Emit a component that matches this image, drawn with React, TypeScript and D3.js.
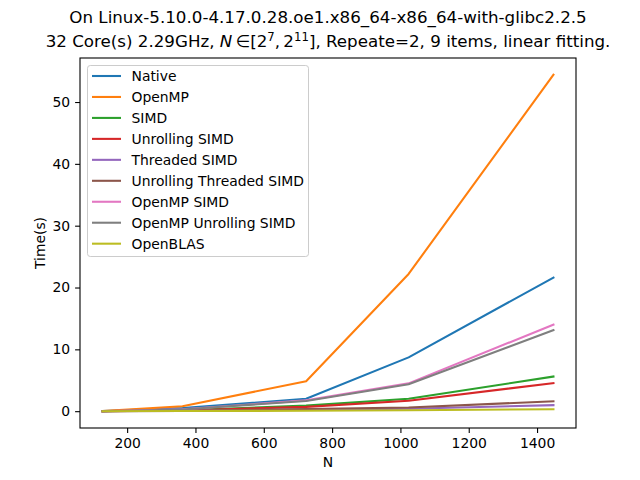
import { useEffect, useRef } from 'react'
import * as d3 from 'd3'

const sizes = [128, 362, 724, 1024, 1448]

const seriesNames = [
  'Native',
  'OpenMP',
  'SIMD',
  'Unrolling SIMD',
  'Threaded SIMD',
  'Unrolling Threaded SIMD',
  'OpenMP SIMD',
  'OpenMP Unrolling SIMD',
  'OpenBLAS',
]

const native = [0.01, 0.5, 2.0, 8.7, 21.6]
const openmp = [0.02, 0.8, 4.85, 22.2, 54.4]
const simd = [0.0, 0.15, 0.9, 2.0, 5.6]
const unrollingSimd = [0.0, 0.12, 0.7, 1.7, 4.55]
const threadedSimd = [0.0, 0.05, 0.25, 0.4, 0.97]
const unrollingThreadedSimd = [0.0, 0.07, 0.35, 0.6, 1.6]
const openmpSimd = [0.0, 0.3, 1.75, 4.5, 14.0]
const openmpUnrollingSimd = [0.0, 0.28, 1.65, 4.35, 13.1]
const openblas = [0.0, 0.02, 0.08, 0.15, 0.32]

const seriesValues = [
  native, openmp, simd, unrollingSimd, threadedSimd,
  unrollingThreadedSimd, openmpSimd, openmpUnrollingSimd, openblas,
]

const colors = ['#1f77b4', '#ff7f0e', '#2ca02c', '#d62728', '#9467bd', '#8c564b', '#e377c2', '#7f7f7f', '#bcbd22']

const xTicks = [200, 400, 600, 800, 1000, 1200, 1400]
const yTicks = [0, 10, 20, 30, 40, 50]

export default function App() {
  const svgRef = useRef<SVGSVGElement>(null)

  useEffect(() => {
    if (!svgRef.current) return
    const svg = d3.select(svgRef.current)
    svg.selectAll('*').remove()

    const width = 640
    const height = 480
    const left = 80, right = 576, top = 58, bottom = 428
    const font = 'DejaVu Sans, sans-serif'

    svg.append('rect').attr('width', width).attr('height', height).attr('fill', 'white')

    // matplotlib-like 5% margins
    const xMin = d3.min(sizes)!, xMax = d3.max(sizes)!
    const xPad = (xMax - xMin) * 0.05
    const x = d3.scaleLinear().domain([xMin - xPad, xMax + xPad]).range([left, right])

    const all = seriesValues.flat()
    const yMin = d3.min(all)!, yMax = d3.max(all)!
    const yPad = (yMax - yMin) * 0.05
    const y = d3.scaleLinear().domain([yMin - yPad, yMax + yPad]).range([bottom, top])

    const line = d3.line<number>()
      .x((_d, i) => x(sizes[i]))
      .y(d => y(d))

    seriesValues.forEach((vals, i) => {
      svg.append('path')
        .datum(vals)
        .attr('fill', 'none')
        .attr('stroke', colors[i])
        .attr('stroke-width', 2.08)
        .attr('stroke-linejoin', 'round')
        .attr('stroke-linecap', 'square')
        .attr('d', line)
    })

    // Axes frame
    svg.append('rect')
      .attr('x', left).attr('y', top)
      .attr('width', right - left).attr('height', bottom - top)
      .attr('fill', 'none').attr('stroke', 'black').attr('stroke-width', 1.1)

    const xAxis = svg.append('g')
      .attr('transform', `translate(0,${bottom})`)
      .call(d3.axisBottom(x).tickValues(xTicks).tickSize(4.9).tickPadding(4.9).tickFormat(d3.format('d')))
    xAxis.select('.domain').remove()
    xAxis.selectAll('line').attr('stroke-width', 1.1)
    xAxis.selectAll('text').attr('font-family', font).attr('font-size', 13.9).attr('fill', 'black')

    const yAxis = svg.append('g')
      .attr('transform', `translate(${left},0)`)
      .call(d3.axisLeft(y).tickValues(yTicks).tickSize(4.9).tickPadding(4.9).tickFormat(d3.format('d')))
    yAxis.select('.domain').remove()
    yAxis.selectAll('line').attr('stroke-width', 1.1)
    yAxis.selectAll('text').attr('font-family', font).attr('font-size', 13.9).attr('fill', 'black')

    // Axis labels
    svg.append('text')
      .attr('x', (left + right) / 2).attr('y', 467)
      .attr('text-anchor', 'middle')
      .attr('font-family', font).attr('font-size', 13.9)
      .text('N')

    svg.append('text')
      .attr('transform', `translate(45,${(top + bottom) / 2}) rotate(-90)`)
      .attr('text-anchor', 'middle')
      .attr('font-family', font).attr('font-size', 13.9)
      .text('Time(s)')

    // Title
    const cx = (left + right) / 2
    svg.append('text')
      .attr('x', cx).attr('y', 23)
      .attr('text-anchor', 'middle')
      .attr('font-family', font).attr('font-size', 16.7)
      .text('On Linux-5.10.0-4.17.0.28.oe1.x86_64-x86_64-with-glibc2.2.5')

    const t2 = svg.append('text')
      .attr('x', cx).attr('y', 47)
      .attr('text-anchor', 'middle')
      .attr('font-family', font).attr('font-size', 16.7)
    t2.append('tspan').text('32 Core(s) 2.29GHz, ')
    t2.append('tspan').attr('font-style', 'italic').text('N')
    t2.append('tspan').text('\u2009\u2208[2')
    t2.append('tspan').attr('font-size', 11.7).attr('dy', -6).text('7')
    t2.append('tspan').attr('dy', 6).text(',\u20092')
    t2.append('tspan').attr('font-size', 11.7).attr('dy', -6).text('11')
    t2.append('tspan').attr('dy', 6).text('], Repeate=2, 9 items, linear fitting.')

    // Legend
    const lg = svg.append('g')
    lg.append('rect')
      .attr('x', 87.5).attr('y', 65.5)
      .attr('width', 221).attr('height', 191)
      .attr('rx', 2.8)
      .attr('fill', 'white').attr('fill-opacity', 0.8)
      .attr('stroke', '#cccccc').attr('stroke-width', 1)

    seriesNames.forEach((name, i) => {
      const yy = 76 + i * 20.96
      lg.append('line')
        .attr('x1', 92).attr('x2', 121)
        .attr('y1', yy).attr('y2', yy)
        .attr('stroke', colors[i]).attr('stroke-width', 2.08)
      lg.append('text')
        .attr('x', 131.5).attr('y', yy + 5)
        .attr('font-family', font).attr('font-size', 13.9)
        .text(name)
    })
  }, [])

  return (
    <div style={{ position: 'absolute', left: 0, top: 0 }}>
      <svg ref={svgRef} width={640} height={480} style={{ display: 'block' }} />
    </div>
  )
}
